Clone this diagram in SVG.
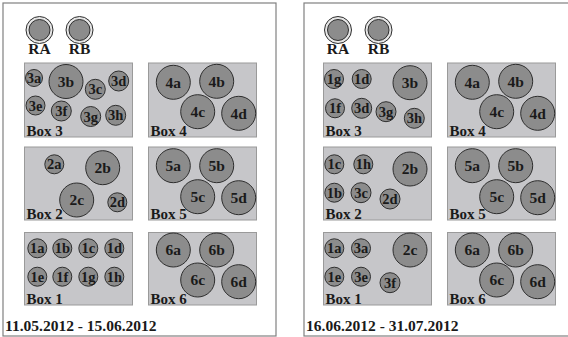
<svg xmlns="http://www.w3.org/2000/svg" width="568" height="337" viewBox="0 0 568 337">
<style>
.panel{fill:#fff;stroke:#808080;stroke-width:1.2}
.box{fill:#c6c6c9;stroke:#9a9a9a;stroke-width:1}
.c{fill:#8c8c8c;stroke:#2e2e2e;stroke-width:1}
.ro{fill:#e6e6e6;stroke:#2e2e2e;stroke-width:1}
.t{font-family:"Liberation Serif",serif;font-weight:bold;fill:#1a1a1a;text-anchor:middle}
.s{font-size:14.5px}
.b{font-size:15.5px}
.lbl{font-family:"Liberation Serif",serif;font-weight:bold;fill:#1a1a1a;font-size:15px}
.date{font-family:"Liberation Serif",serif;font-weight:bold;fill:#1a1a1a;font-size:15.5px}
</style>
<rect x="0" y="0" width="568" height="337" fill="#fff"/>
<g id="panel-left">
<rect class="panel" x="3" y="3" width="273" height="333"/>
<text class="date" x="5" y="331">11.05.2012 - 15.06.2012</text>
</g>
<g id="panel-right">
<rect class="panel" x="304" y="3" width="266" height="333"/>
<text class="date" x="306" y="331">16.06.2012 - 31.07.2012</text>
</g>
<g id="L-RA"><circle class="ro" cx="39.5" cy="30" r="13.5"/><circle class="c" cx="39.5" cy="30" r="10.5"/><text class="t b" x="39.5" y="54">RA</text></g>
<g id="L-RB"><circle class="ro" cx="79.5" cy="30" r="13.5"/><circle class="c" cx="79.5" cy="30" r="10.5"/><text class="t b" x="79.5" y="54">RB</text></g>
<g id="R-RA"><circle class="ro" cx="338" cy="30" r="13.5"/><circle class="c" cx="338" cy="30" r="10.5"/><text class="t b" x="338" y="54">RA</text></g>
<g id="R-RB"><circle class="ro" cx="378.5" cy="30" r="13.5"/><circle class="c" cx="378.5" cy="30" r="10.5"/><text class="t b" x="378.5" y="54">RB</text></g>

<g id="L-box3">
<rect class="box" x="24.5" y="63" width="108" height="74"/>
<circle class="c" cx="34" cy="78" r="8.5"/><text class="t s" x="34" y="83">3a</text>
<circle class="c" cx="66" cy="81.5" r="17"/><text class="t b" x="66" y="87">3b</text>
<circle class="c" cx="95.3" cy="89.3" r="10"/><text class="t s" x="95.3" y="94.3">3c</text>
<circle class="c" cx="118.7" cy="81" r="10"/><text class="t s" x="118.7" y="86">3d</text>
<circle class="c" cx="35.5" cy="105.5" r="9.5"/><text class="t s" x="35.5" y="110.5">3e</text>
<circle class="c" cx="61.3" cy="111" r="10"/><text class="t s" x="61.3" y="116">3f</text>
<circle class="c" cx="90.7" cy="116.5" r="10"/><text class="t s" x="90.7" y="121.5">3g</text>
<circle class="c" cx="115.7" cy="115.3" r="10"/><text class="t s" x="115.7" y="120.3">3h</text>
<text class="lbl" x="26.5" y="136">Box 3</text>
</g>
<g id="L-box4">
<rect class="box" x="148.5" y="63" width="108" height="74"/>
<circle class="c" cx="173.3" cy="82.3" r="17"/><text class="t b" x="173.3" y="87.5">4a</text>
<circle class="c" cx="216.7" cy="81.3" r="17"/><text class="t b" x="216.7" y="86.5">4b</text>
<circle class="c" cx="197.7" cy="111.7" r="17"/><text class="t b" x="197.7" y="117">4c</text>
<circle class="c" cx="238.7" cy="113.3" r="17"/><text class="t b" x="238.7" y="118.5">4d</text>
<text class="lbl" x="150.5" y="136">Box 4</text>
</g>
<g id="L-box2">
<rect class="box" x="24.5" y="147" width="108" height="73"/>
<circle class="c" cx="54.3" cy="164.3" r="9.5"/><text class="t s" x="54.3" y="169.3">2a</text>
<circle class="c" cx="102.7" cy="167.7" r="17"/><text class="t b" x="102.7" y="173">2b</text>
<circle class="c" cx="76.7" cy="200" r="17"/><text class="t b" x="76.7" y="205.3">2c</text>
<circle class="c" cx="117.3" cy="202.3" r="9.5"/><text class="t s" x="117.3" y="207.3">2d</text>
<text class="lbl" x="26.5" y="219">Box 2</text>
</g>
<g id="L-box5">
<rect class="box" x="148.5" y="147" width="108" height="73"/>
<circle class="c" cx="173.3" cy="165.7" r="17"/><text class="t b" x="173.3" y="171">5a</text>
<circle class="c" cx="216.7" cy="165.7" r="17"/><text class="t b" x="216.7" y="171">5b</text>
<circle class="c" cx="197.7" cy="196.7" r="17"/><text class="t b" x="197.7" y="202">5c</text>
<circle class="c" cx="238.7" cy="197.7" r="17"/><text class="t b" x="238.7" y="203">5d</text>
<text class="lbl" x="150.5" y="219">Box 5</text>
</g>
<g id="L-box1">
<rect class="box" x="24.5" y="232.5" width="108" height="72.5"/>
<circle class="c" cx="37.3" cy="248.3" r="9.5"/><text class="t s" x="37.3" y="253.3">1a</text>
<circle class="c" cx="62.3" cy="248.3" r="9.5"/><text class="t s" x="62.3" y="253.3">1b</text>
<circle class="c" cx="88.3" cy="248.3" r="9.5"/><text class="t s" x="88.3" y="253.3">1c</text>
<circle class="c" cx="114.3" cy="248.3" r="9.5"/><text class="t s" x="114.3" y="253.3">1d</text>
<circle class="c" cx="37.3" cy="276.7" r="9.5"/><text class="t s" x="37.3" y="281.7">1e</text>
<circle class="c" cx="62.3" cy="276.7" r="9.5"/><text class="t s" x="62.3" y="281.7">1f</text>
<circle class="c" cx="88.3" cy="276.7" r="9.5"/><text class="t s" x="88.3" y="281.7">1g</text>
<circle class="c" cx="114.3" cy="276.7" r="9.5"/><text class="t s" x="114.3" y="281.7">1h</text>
<text class="lbl" x="26.5" y="304">Box 1</text>
</g>
<g id="L-box6">
<rect class="box" x="148.5" y="232.5" width="108" height="72.5"/>
<circle class="c" cx="173.3" cy="250" r="17"/><text class="t b" x="173.3" y="255.3">6a</text>
<circle class="c" cx="216.7" cy="250" r="17"/><text class="t b" x="216.7" y="255.3">6b</text>
<circle class="c" cx="197.7" cy="280" r="17"/><text class="t b" x="197.7" y="285.3">6c</text>
<circle class="c" cx="238.7" cy="281.7" r="17"/><text class="t b" x="238.7" y="287">6d</text>
<text class="lbl" x="150.5" y="304">Box 6</text>
</g>

<g id="R-box3">
<rect class="box" x="323.5" y="63" width="108" height="74"/>
<circle class="c" cx="334" cy="79" r="9.5"/><text class="t s" x="334" y="84">1g</text>
<circle class="c" cx="361.7" cy="79" r="9.5"/><text class="t s" x="361.7" y="84">1d</text>
<circle class="c" cx="410" cy="82.7" r="17"/><text class="t b" x="410" y="88">3b</text>
<circle class="c" cx="335" cy="108.3" r="9.5"/><text class="t s" x="335" y="113.3">1f</text>
<circle class="c" cx="361.7" cy="108.3" r="10"/><text class="t s" x="361.7" y="113.3">3d</text>
<circle class="c" cx="386" cy="111.7" r="10"/><text class="t s" x="386" y="116.7">3g</text>
<circle class="c" cx="414.3" cy="118.3" r="10"/><text class="t s" x="414.3" y="123.3">3h</text>
<text class="lbl" x="325.5" y="136">Box 3</text>
</g>
<g id="R-box4">
<rect class="box" x="447.5" y="63" width="108" height="74"/>
<circle class="c" cx="472.3" cy="82.3" r="17"/><text class="t b" x="472.3" y="87.5">4a</text>
<circle class="c" cx="515.7" cy="81.3" r="17"/><text class="t b" x="515.7" y="86.5">4b</text>
<circle class="c" cx="496.7" cy="111.7" r="17"/><text class="t b" x="496.7" y="117">4c</text>
<circle class="c" cx="537.7" cy="113.3" r="17"/><text class="t b" x="537.7" y="118.5">4d</text>
<text class="lbl" x="449.5" y="136">Box 4</text>
</g>
<g id="R-box2">
<rect class="box" x="323.5" y="147" width="108" height="73"/>
<circle class="c" cx="334.3" cy="164.3" r="9.5"/><text class="t s" x="334.3" y="169.3">1c</text>
<circle class="c" cx="363.3" cy="164.3" r="9.5"/><text class="t s" x="363.3" y="169.3">1h</text>
<circle class="c" cx="410" cy="169" r="17"/><text class="t b" x="410" y="174.3">2b</text>
<circle class="c" cx="334.3" cy="192.7" r="9.5"/><text class="t s" x="334.3" y="197.7">1b</text>
<circle class="c" cx="361" cy="192.7" r="10"/><text class="t s" x="361" y="197.7">3c</text>
<circle class="c" cx="390" cy="199" r="10"/><text class="t s" x="390" y="204">2d</text>
<text class="lbl" x="325.5" y="219">Box 2</text>
</g>
<g id="R-box5">
<rect class="box" x="447.5" y="147" width="108" height="73"/>
<circle class="c" cx="472.3" cy="165.7" r="17"/><text class="t b" x="472.3" y="171">5a</text>
<circle class="c" cx="515.7" cy="165.7" r="17"/><text class="t b" x="515.7" y="171">5b</text>
<circle class="c" cx="496.7" cy="196.7" r="17"/><text class="t b" x="496.7" y="202">5c</text>
<circle class="c" cx="537.7" cy="197.7" r="17"/><text class="t b" x="537.7" y="203">5d</text>
<text class="lbl" x="449.5" y="219">Box 5</text>
</g>
<g id="R-box1">
<rect class="box" x="323.5" y="232.5" width="108" height="72.5"/>
<circle class="c" cx="334.3" cy="248.3" r="9.5"/><text class="t s" x="334.3" y="253.3">1a</text>
<circle class="c" cx="361" cy="248.3" r="9.5"/><text class="t s" x="361" y="253.3">3a</text>
<circle class="c" cx="410" cy="250" r="17"/><text class="t b" x="410" y="255.3">2c</text>
<circle class="c" cx="334.3" cy="276.7" r="9.5"/><text class="t s" x="334.3" y="281.7">1e</text>
<circle class="c" cx="361" cy="276.7" r="9.5"/><text class="t s" x="361" y="281.7">3e</text>
<circle class="c" cx="390" cy="282.7" r="10"/><text class="t s" x="390" y="287.7">3f</text>
<text class="lbl" x="325.5" y="304">Box 1</text>
</g>
<g id="R-box6">
<rect class="box" x="447.5" y="232.5" width="108" height="72.5"/>
<circle class="c" cx="472.3" cy="250" r="17"/><text class="t b" x="472.3" y="255.3">6a</text>
<circle class="c" cx="515.7" cy="250" r="17"/><text class="t b" x="515.7" y="255.3">6b</text>
<circle class="c" cx="496.7" cy="280" r="17"/><text class="t b" x="496.7" y="285.3">6c</text>
<circle class="c" cx="537.7" cy="281.7" r="17"/><text class="t b" x="537.7" y="287">6d</text>
<text class="lbl" x="449.5" y="304">Box 6</text>
</g>
<g id="connectors"></g>
</svg>
